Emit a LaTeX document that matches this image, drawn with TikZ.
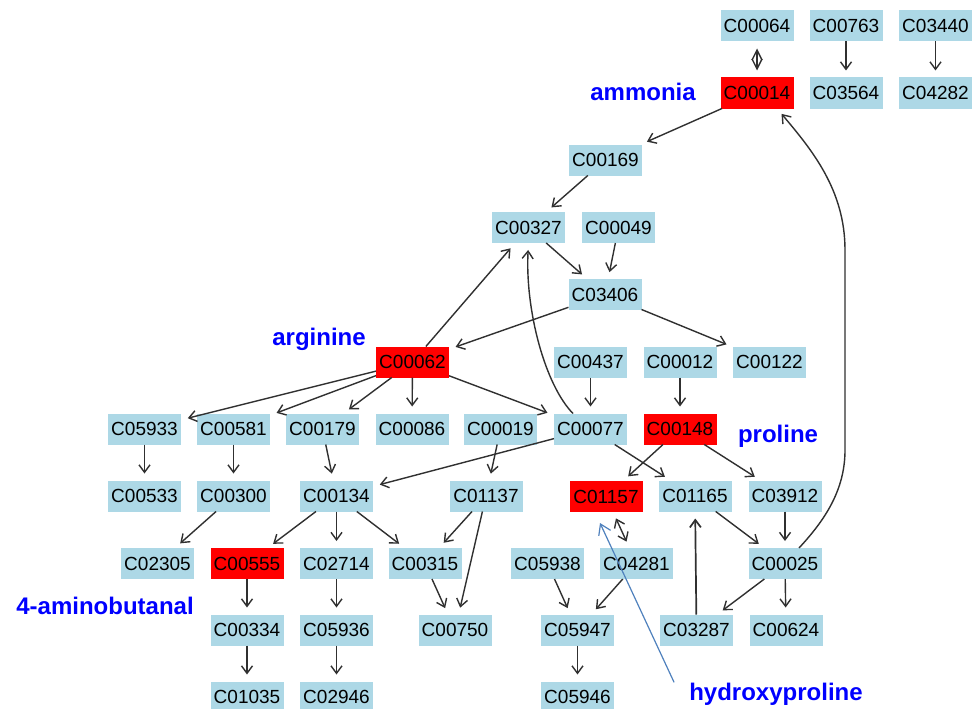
\documentclass[tikz,border=0pt]{standalone}
\usepackage{fontspec}
\setmainfont{Liberation Sans}
\usetikzlibrary{arrows.meta,calc}
\definecolor{lb}{HTML}{ADD8E6}
\definecolor{hred}{HTML}{FF0000}
\definecolor{labblue}{HTML}{0000FF}
\definecolor{steel}{HTML}{4F81BD}
\definecolor{edgecol}{HTML}{303030}
\begin{document}
\begin{tikzpicture}[x=1pt,y=-1pt,
  cbox/.style={rectangle, fill=lb, minimum width=73pt, minimum height=31pt, inner sep=0pt, outer sep=0pt, font=\fontsize{19}{19}\selectfont, text=black},
  hl/.style={cbox, fill=hred},
  lab/.style={text=labblue, font=\fontsize{24}{24}\selectfont\bfseries, inner sep=0pt, anchor=base},
  edge/.style={draw=edgecol, line width=1.4pt, -{Straight Barb[length=7.5pt,width=11pt]}, shorten >=7pt},
  dedge/.style={draw=edgecol, line width=1.4pt, {Straight Barb[length=7.5pt,width=11pt]}-{Straight Barb[length=7.5pt,width=11pt]}, shorten >=7pt, shorten <=7pt},
  diamedge/.style={draw=edgecol, line width=1.4pt, {Straight Barb[length=10pt,width=10pt]}-{Straight Barb[length=10pt,width=10pt]}, shorten >=7pt, shorten <=7pt},
  bluearrow/.style={draw=steel, line width=1.2pt, -{Straight Barb[length=10pt,width=13pt]}}
]
\fill[white] (0,0) rectangle (980,709);
\useasboundingbox (0,0) rectangle (980,709);

% row 1
\node[cbox] (C00064) at (757,26) {C00064};
\node[cbox] (C00763) at (846,26) {C00763};
\node[cbox] (C03440) at (935.5,26) {C03440};
% row 2
\node[hl] (C00014) at (757,93) {C00014};
\node[cbox] (C03564) at (846,93) {C03564};
\node[cbox] (C04282) at (935.5,93) {C04282};
% row 3
\node[cbox] (C00169) at (605.5,160) {C00169};
% row 4
\node[cbox] (C00327) at (528.5,227.5) {C00327};
\node[cbox] (C00049) at (618.5,227.5) {C00049};
% row 5
\node[cbox] (C03406) at (605,294.5) {C03406};
% row 6
\node[hl] (C00062) at (412.5,362) {C00062};
\node[cbox] (C00437) at (590.5,362) {C00437};
\node[cbox] (C00012) at (680,362) {C00012};
\node[cbox] (C00122) at (769.5,362) {C00122};
% row 7
\node[cbox] (C05933) at (144.5,429) {C05933};
\node[cbox] (C00581) at (233.5,429) {C00581};
\node[cbox] (C00179) at (322.5,429) {C00179};
\node[cbox] (C00086) at (412,429) {C00086};
\node[cbox] (C00019) at (500.5,429) {C00019};
\node[cbox] (C00077) at (590.5,429) {C00077};
\node[hl] (C00148) at (680,429) {C00148};
% row 8
\node[cbox] (C00533) at (144.5,496) {C00533};
\node[cbox] (C00300) at (233.5,496) {C00300};
\node[cbox] (C00134) at (336.5,496) {C00134};
\node[cbox] (C01137) at (486,496) {C01137};
\node[hl] (C01157) at (606,496.5) {C01157};
\node[cbox] (C01165) at (695,496) {C01165};
\node[cbox] (C03912) at (785,496) {C03912};
% row 9
\node[cbox] (C02305) at (157.5,563.5) {C02305};
\node[hl] (C00555) at (247,563.5) {C00555};
\node[cbox] (C02714) at (336.5,563.5) {C02714};
\node[cbox] (C00315) at (425,563.5) {C00315};
\node[cbox] (C05938) at (547.5,563.5) {C05938};
\node[cbox] (C04281) at (636.5,563.5) {C04281};
\node[cbox] (C00025) at (785,563.5) {C00025};
% row 10
\node[cbox] (C00334) at (247,630) {C00334};
\node[cbox] (C05936) at (336.5,630) {C05936};
\node[cbox] (C00750) at (455,630) {C00750};
\node[cbox] (C05947) at (577.5,630) {C05947};
\node[cbox] (C03287) at (696.5,630) {C03287};
\node[cbox] (C00624) at (786,630) {C00624};
% row 11
\node[cbox] (C01035) at (247,697) {C01035};
\node[cbox] (C02946) at (336.5,697) {C02946};
\node[cbox] (C05946) at (577.5,697) {C05946};

% labels
\node[lab] (ammonia) at (643,100) {ammonia};
\node[lab] (arginine) at (319,345) {arginine};
\node[lab] (proline) at (778,442) {proline};
\node[lab] (aminob) at (105,614) {4-aminobutanal};
\node[lab] (hyd) at (776,700) {hydroxyproline};

% edges
\draw[diamedge] (C00064) -- (C00014);
\draw[edge] (C00763) -- (C03564);
\draw[edge] (C03440) -- (C04282);
\draw[edge] (C00014) -- (C00169);
\draw[edge] (C00169) -- (C00327);
\draw[edge] (C00327) -- (C03406);
\draw[edge] (C00049) -- (C03406);
\draw[edge] (C03406) -- (C00062);
\draw[edge] (C03406) -- (C00122);
\draw[edge] (C00062) -- (C00327);
\draw[edge] ([xshift=-17.5pt]C00077.north) .. controls (545,385) and (525,310) .. (C00327.south);
\draw[edge] (C00062) -- (C05933);
\draw[edge] (C00062) -- (C00581);
\draw[edge] (C00062) -- (C00179);
\draw[edge] (C00062) -- (C00086);
\draw[edge] (C00062) -- (C00077);
\draw[edge] (C00437) -- (C00077);
\draw[edge] (C00012) -- (C00148);
\draw[edge] (C00077) -- (C00134);
\draw[edge] (C00077) -- (C01165);
\draw[edge] (C00148) -- (C01157);
\draw[edge] (C00148) -- (C03912);
\draw[edge] (C00019) -- (C01137);
\draw[edge] (C05933) -- (C00533);
\draw[edge] (C00581) -- (C00300);
\draw[edge] (C00179) -- (C00134);
\draw[edge] (C00300) -- (C02305);
\draw[edge] (C00134) -- (C00555);
\draw[edge] (C00134) -- (C02714);
\draw[edge] (C00134) -- (C00315);
\draw[edge] (C01137) -- (C00315);
\draw[edge] (C01137) -- (C00750);
\draw[edge] (C00315) -- (C00750);
\draw[edge] (C00555) -- (C00334);
\draw[edge] (C00334) -- (C01035);
\draw[edge] (C02714) -- (C05936);
\draw[edge] (C05936) -- (C02946);
\draw[edge] (C05938) -- (C05947);
\draw[edge] (C04281) -- (C05947);
\draw[edge] (C05947) -- (C05946);
\draw[dedge] (C01157) -- (C04281);
\draw[edge] (C01165) -- (C00025);
\draw[edge] (C03912) -- (C00025);
\draw[edge] (C00025) -- (C00624);
\draw[edge] (C00025) -- (C03287);
\draw[edge, line width=1.7pt] (C03287) -- (C01165);
\draw[edge] ([xshift=14pt]C00025.north) .. controls (825,520) and (845,490) .. (845,450) -- (845,250) .. controls (845,190) and (812,150) .. ([xshift=20pt]C00014.south);
\draw[bluearrow] ([shift={(-15,0)}]hyd.north west) -- ([shift={(-6,11)}]C01157.south);
\end{tikzpicture}
\end{document}
